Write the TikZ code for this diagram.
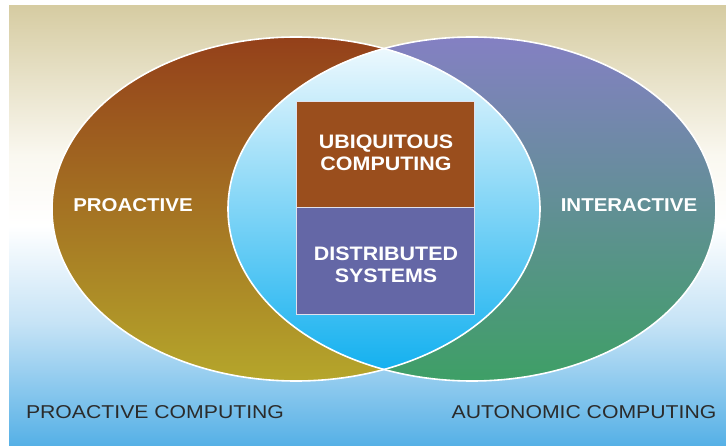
\documentclass[tikz,border=0pt]{standalone}
\usepackage{fontspec}
\setmainfont{Liberation Sans}[FakeStretch=1.1]
\newfontfamily\captionfont{Liberation Sans}[FakeStretch=1.14]
\usepackage{tikz}
\usetikzlibrary{%
	positioning,%
	calc%
}

\definecolor{bgtan}{HTML}{D6CCA2}
\definecolor{bgcream}{HTML}{FAF8F0}
\definecolor{bglight}{HTML}{C6E3F6}
\definecolor{bgblue}{HTML}{55B0E6}
\definecolor{proTop}{HTML}{94401A}
\definecolor{proBot}{HTML}{B5A62B}
\definecolor{intTop}{HTML}{8480C3}
\definecolor{intBot}{HTML}{3E9F66}
\definecolor{lensTop}{HTML}{F4FBFE}
\definecolor{lensBot}{HTML}{0CAEEF}
\definecolor{ubiFill}{HTML}{9A4E1D}
\definecolor{distFill}{HTML}{6467A6}
\definecolor{capText}{HTML}{2B2B2B}

\pgfdeclareverticalshading{backdrop}{100bp}{color(0bp)=(bgblue); color(25bp)=(bgblue); color(39bp)=(bglight); color(50bp)=(white); color(58bp)=(bgcream); color(75bp)=(bgtan); color(100bp)=(bgtan)}

\begin{document}
\begin{tikzpicture}[x=1pt,y=-1pt,
	setbox/.style={draw=white!80!distFill, line width=0.8pt, outer sep=0pt, minimum width=178pt},
	settext/.style={text=white, font=\bfseries\fontsize{19.5}{22}\selectfont, align=center, inner sep=0pt},
	setname/.style={text=white, font=\bfseries\fontsize{18.6}{22}\selectfont, anchor=base, inner sep=0pt},
	fieldname/.style={text=capText, font=\captionfont\fontsize{18.6}{22}\selectfont, anchor=base, inner sep=0pt},
	oval/.style={x radius=244pt, y radius=172pt}]
				% TikZ code for the two overlapping sets
				\useasboundingbox (0,0) rectangle (726,446);
				\shade[shading=backdrop] (9,6) rectangle (726,446);
				\coordinate (pl) at (296,209);
				\coordinate (pr) at (472,209);
				\shade[top color=proTop, bottom color=proBot] (pl) ellipse [oval];
				\shade[top color=intTop, bottom color=intBot] (pr) ellipse [oval];
				\begin{scope}
					\clip (pl) ellipse [oval];
					\shade[top color=lensTop, bottom color=lensBot] (pr) ellipse [oval];
				\end{scope}
				\foreach \centre in {pl,pr}
				\draw[white, line width=1.6pt] (\centre) ellipse [oval];
				\node[setbox, fill=ubiFill, minimum height=106pt] (ubi) at (385,154) {};
				\node[setbox, fill=distFill, minimum height=107pt, below=0pt of ubi] (dist) {};
				\node[settext] (ubitext) at ($(ubi)+(1,-1.5)$) {UBIQUITOUS\\COMPUTING};
				\node[settext] (disttext) at ($(dist)+(1,4)$) {DISTRIBUTED\\SYSTEMS};
				\node[setname] (pro) at (133,212) {PROACTIVE};
				\node[setname] (inter) at (629,212) {INTERACTIVE};
				\node[fieldname] (procomp) at (155,418) {PROACTIVE COMPUTING};
				\node[fieldname] (autocomp) at (584,418) {AUTONOMIC COMPUTING};
			\end{tikzpicture}
\end{document}
